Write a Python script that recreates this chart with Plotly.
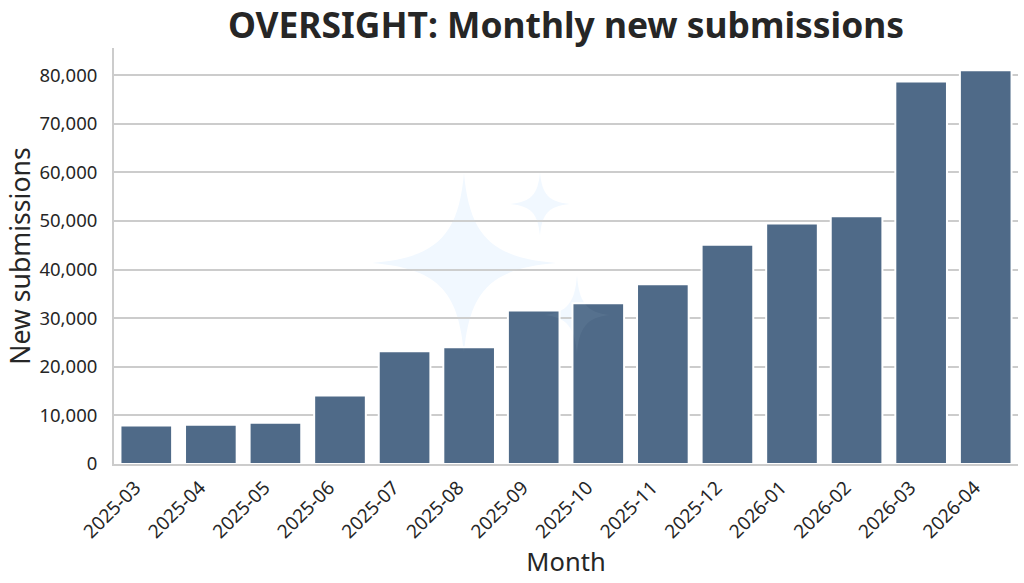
import plotly.graph_objects as go

months = ["2025-03", "2025-04", "2025-05", "2025-06", "2025-07", "2025-08", "2025-09",
          "2025-10", "2025-11", "2025-12", "2026-01", "2026-02", "2026-03", "2026-04"]
submissions = [7900, 8100, 8500, 14100, 23200, 24000, 31600,
               33100, 37000, 45100, 49500, 51000, 78700, 81000]
y_ticks = [0, 10000, 20000, 30000, 40000, 50000, 60000, 70000, 80000]

FONT = "Noto Sans"
INK = "#262626"
GRID = "#cccccc"


def sparkle(cx, cy, rx, ry):
    """Four-point star path in paper coordinates, with concave curved sides."""
    k = 0.06
    return (f"M {cx} {cy - ry} "
            f"C {cx + rx * k} {cy - ry * 0.3} {cx + rx * 0.3} {cy - ry * k} {cx + rx} {cy} "
            f"C {cx + rx * 0.3} {cy + ry * k} {cx + rx * k} {cy + ry * 0.3} {cx} {cy + ry} "
            f"C {cx - rx * k} {cy + ry * 0.3} {cx - rx * 0.3} {cy + ry * k} {cx - rx} {cy} "
            f"C {cx - rx * 0.3} {cy - ry * k} {cx - rx * k} {cy - ry * 0.3} {cx} {cy - ry} Z")


W, H = 1024, 583
L, R, T, B = 114, 6, 48, 119
pw, ph = W - L - R, H - T - B


def star_shapes(px, py, prx, pry):
    """A pale star behind the grid plus a faint veil of it over the bars."""
    path = sparkle((px - L) / pw, 1 - (py - T) / ph, prx / pw, pry / ph)
    base = dict(type="path", xref="paper", yref="paper", path=path, line_width=0)
    return [dict(base, layer="below", fillcolor="#f2f8ff"),
            dict(base, layer="above", fillcolor="rgba(240,247,255,0.05)")]


fig = go.Figure(go.Bar(
    x=months, y=submissions, width=0.8,
    marker=dict(color="#4f6a88", line=dict(color="white", width=2)),
))

fig.update_layout(
    width=W, height=H, margin=dict(l=L, r=R, t=T, b=B),
    paper_bgcolor="white", plot_bgcolor="white", showlegend=False,
    font=dict(family=FONT, color=INK),
    title=dict(text="<b>OVERSIGHT: Monthly new submissions</b>",
               font=dict(family=FONT, size=35.4, color=INK),
               x=566 / W, xanchor="center", y=1 - 25.5 / H, yanchor="middle"),
    shapes=star_shapes(464, 263, 92, 90) + star_shapes(540, 204, 30, 32) + star_shapes(577, 315, 33, 40),
)
fig.update_xaxes(
    type="category", range=[-0.5, 13.5], showgrid=False, ticks="", tickangle=-45,
    tickfont=dict(size=19), ticklabelshift=-11, ticklabelstandoff=3,
    showline=True, linecolor=GRID, linewidth=2,
    title=dict(text="Month", font=dict(size=25.5), standoff=0),
)
fig.update_yaxes(
    range=[0, 85600], tickvals=y_ticks, tickformat=",", showgrid=True, gridcolor=GRID,
    gridwidth=2, zeroline=False, ticks="", tickfont=dict(size=18.5), ticklabelstandoff=11,
    showline=True, linecolor=GRID, linewidth=2,
    title=dict(text="New submissions", font=dict(size=26.6), standoff=1),
)

fig.write_html("out.html")
